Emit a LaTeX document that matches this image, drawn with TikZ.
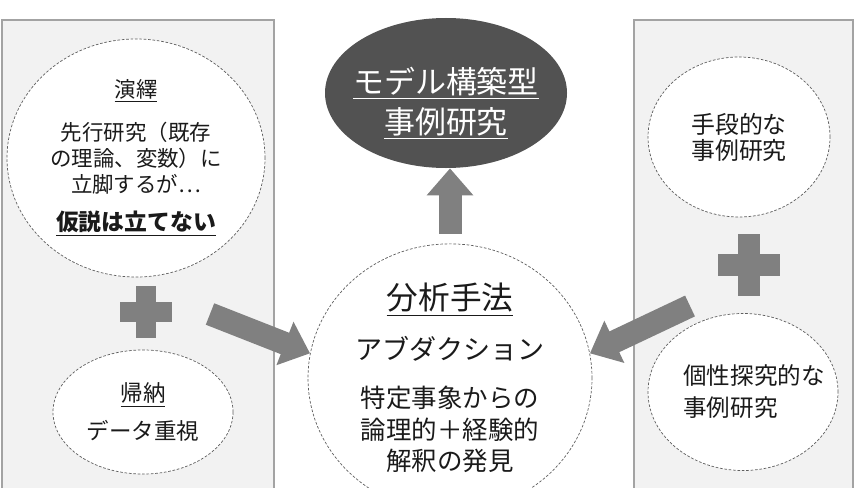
\documentclass[tikz,border=0pt]{standalone}
\usepackage{fontspec}
\setmainfont{Noto Sans CJK JP}
\usetikzlibrary{arrows.meta,shapes.geometric}
\definecolor{ink}{HTML}{1A1A1A}
\definecolor{panelfill}{HTML}{F2F2F2}
\definecolor{panelline}{HTML}{A3A3A3}
\definecolor{rimline}{HTML}{5E5E5E}
\definecolor{arrowfill}{HTML}{808080}
\definecolor{darkfill}{HTML}{525252}
\newcommand{\fsz}[2]{\fontsize{#1}{#2}\selectfont}
% plus sign: x, y, half span, half bar
\newcommand{\plusmark}[4]{%
 \fill[plusfill] (#1-#4,#2-#3) rectangle (#1+#4,#2+#3);
 \fill[plusfill] (#1-#3,#2-#4) rectangle (#1+#3,#2+#4);}
\tikzset{
 every node/.append style={text=ink,align=center},
 panel/.style={draw=panelline,fill=panelfill,line width=.6pt},
 bubble/.style={ellipse,draw=rimline,fill=white,dash pattern=on 1.5pt off 1pt,line width=.4pt,inner sep=0pt},
 darkbubble/.style={ellipse,fill=darkfill,inner sep=0pt},
 word/.style={inner sep=0pt},
 block/.style={-{Triangle[length=5.4mm,width=9mm]},draw=arrowfill,line width=4.6mm},
 plusfill/.style={fill=arrowfill},
}
\begin{document}
\begin{tikzpicture}[x=0.2mm,y=-0.2mm]

\useasboundingbox (0,0) rectangle (860,487);
\draw[panel] (2,20) rectangle (274,500);
\draw[panel] (634,20) rectangle (853,500);

% left side
\node[bubble,minimum width=51.6mm,minimum height=47.6mm,font=\fsz{12.2}{14.8}] (deduce) at (136,158) {\underline{演繹}\\[9.7pt]先行研究（既存\\の理論、変数）に\\立脚するが⋯\\[6.8pt]{\fsz{13}{14.8}\bfseries\underline{仮説は立てない}}};
\plusmark{146}{312}{26}{10}
\node[bubble,minimum width=36mm,minimum height=24.8mm,font=\fsz{12.8}{21.6}] (induce) at (143,412) {\underline{帰納}\\データ重視};

% middle
\node[darkbubble,minimum width=48.4mm,minimum height=30mm] (model) at (446,93) {};
\node[word,text=white,font=\fsz{17.6}{22.8}] (modeltext) at ([yshift=-5.7pt]model.center) {\underline{モデル構築型}\\\underline{事例研究}};
\node[bubble,minimum width=56.8mm,minimum height=40mm,font=\fsz{14.5}{17.9}] (abd) at (450,378) {{\fsz{18}{17.9}\underline{分析手法}}\\[10.6pt]{\fsz{15.4}{17.9}アブダクション}\\[9.4pt]特定事象からの\\論理的＋経験的\\解釈の発見};

% right side
\node[bubble,minimum width=36.4mm,minimum height=32mm,font=\fsz{13.6}{14.8}] (means) at (739,137) {手段的な\\事例研究};
\plusmark{749}{265}{31}{11}
\node[bubble,minimum width=38mm,minimum height=31.4mm] (ideo) at (743,392) {};
\node[word,align=left,font=\fsz{13.4}{18.2}] (ideotext) at ([xshift=6.3pt]ideo.center) {個性探究的な\\事例研究};

% arrows
\coordinate (ltail) at (210,314);
\coordinate (rtail) at (690,306);
\draw[block] (ltail) -- (abd.170);
\draw[block] (rtail) -- (abd.10);
\draw[block,shorten <=2mm] (abd.north) -- (abd.north |- model.south);

\end{tikzpicture}
\end{document}
